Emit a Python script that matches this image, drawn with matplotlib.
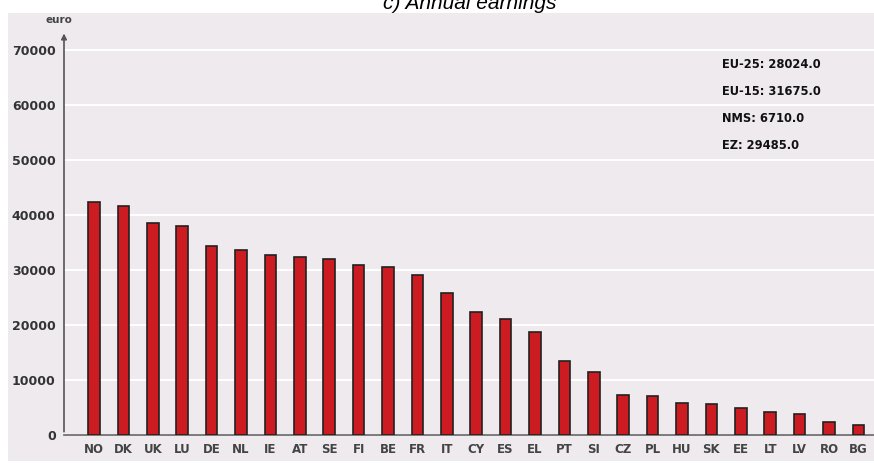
import numpy as np
import matplotlib.pyplot as plt
from matplotlib.patches import Rectangle

countries = ["NO", "DK", "UK", "LU", "DE", "NL", "IE", "AT", "SE", "FI", "BE", "FR", "IT",
             "CY", "ES", "EL", "PT", "SI", "CZ", "PL", "HU", "SK", "EE", "LT", "LV", "RO", "BG"]
earnings = [42300, 41650, 38550, 38000, 34400, 33500, 32700, 32300, 32000, 30850, 30550, 28950, 25850,
            22250, 21100, 18750, 13450, 11300, 7250, 7000, 5800, 5550, 4850, 4150, 3650, 2200, 1750]
y_ticks = [0, 10000, 20000, 30000, 40000, 50000, 60000, 70000]
summary = ["EU-25: 28024.0", "EU-15: 31675.0", "NMS: 6710.0", "EZ: 29485.0"]

W, H = 874, 463
bg = "#eeeaee"

fig = plt.figure(figsize=(W / 100, H / 100), dpi=100)
fig.patch.set_facecolor("white")
fig.patches.append(Rectangle((8 / W, 1 - 461 / H), 1 - 8 / W, (461 - 13) / H,
                             transform=fig.transFigure, facecolor=bg, edgecolor="none", zorder=-5))

ax = fig.add_axes([64 / W, 1 - 434.5 / H, 1 - 64 / W, (434.5 - 33.5) / H])
ax.set_facecolor(bg)

x = np.arange(len(countries))
ax.bar(x, earnings, width=0.4, color="#cc1b21", edgecolor="#222222", linewidth=1.2, zorder=3)

ax.set_xlim(-1.02, len(countries) - 0.47)
ax.set_ylim(0, 73000)
ax.set_yticks(y_ticks)
ax.set_yticklabels([str(v) for v in y_ticks], fontsize=9, fontweight="bold", color="#333333")
ax.set_xticks(x)
ax.set_xticklabels(countries, fontsize=8.5, fontweight="bold", color="#444444")
ax.tick_params(axis="both", length=0)
ax.tick_params(axis="y", pad=6)
ax.tick_params(axis="x", pad=6)
ax.grid(axis="y", color="white", linewidth=1.4, zorder=1)
ax.set_axisbelow(True)

for side in ["top", "right", "left"]:
    ax.spines[side].set_visible(False)
ax.spines["bottom"].set_color("#666666")
ax.spines["bottom"].set_linewidth(1.2)

# y axis with arrow head
ax.annotate("", xy=(0, 1.007), xytext=(0, 0), xycoords="axes fraction",
            arrowprops=dict(arrowstyle="-|>", color="#555555", lw=1.2, mutation_scale=8))

fig.text(59 / W, 1 - 20 / H, "euro", fontsize=7.5, fontweight="bold",
         color="#444444", ha="center", va="center")

for i, s in enumerate(summary):
    fig.text(722 / W, 1 - (65 + i * 26.7) / H, s, fontsize=8.3, fontweight="bold",
             color="#111111", ha="left", va="center")

fig.text(470 / W, 1 - 9 / H, "c) Annual earnings", fontsize=15, style="italic",
         family="Liberation Sans", ha="center", va="baseline", color="black")

fig.savefig("out.png", dpi=100)
